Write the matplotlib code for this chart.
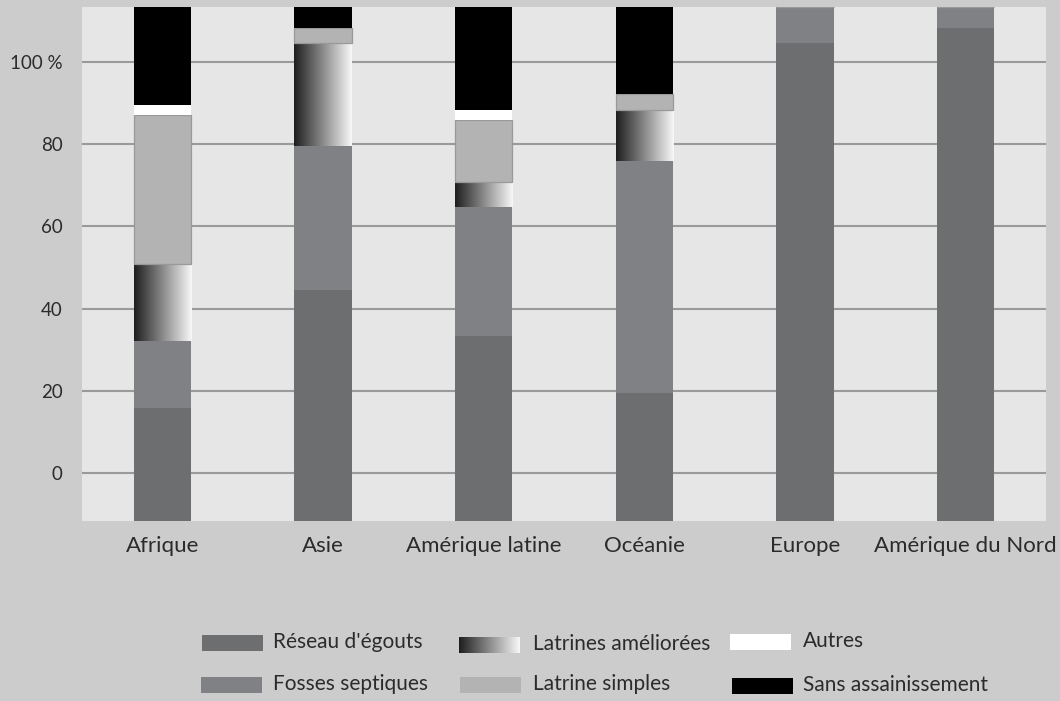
import numpy as np
import matplotlib
matplotlib.use("Agg")
import matplotlib.pyplot as plt
from matplotlib.patches import Rectangle

plt.rcParams['font.family'] = ['Lato', 'DejaVu Sans']

# Sanitation access by region (% of population)
regions = ["Afrique", "Asie", "Amérique latine", "Océanie", "Europe", "Amérique du Nord"]
reseau = [22, 45, 36, 25, 93, 96]
fosses = [13, 28, 25, 45, 7, 4]
latrines_ameliorees = [15, 20, 5, 10, 0, 0]
latrines_simples = [29, 3, 12, 3, 0, 0]
autres = [2, 0, 2, 0, 0, 0]
sans = [19, 4, 20, 17, 0, 0]

series_names = ["Réseau d'égouts", "Fosses septiques", "Latrines améliorées",
                "Latrine simples", "Autres", "Sans assainissement"]

# Reference scale printed on the left
grid_ticks = [0, 20, 40, 60, 80, 100]
grid_labels = ["0", "20", "40", "60", "80", "100 %"]
grid_range = (-11.7, 113.4)

C_RESEAU = "#6d6e70"
C_FOSSES = "#808184"
C_SIMPLES = "#b3b3b3"
C_AUTRES = "#ffffff"
C_SANS = "#000000"
FIG_BG = "#cccccc"
AX_BG = "#e6e6e6"
TEXT = "#2b2b2b"

grad_img = np.linspace(0.12, 0.97, 256).reshape(1, -1)

fig = plt.figure(figsize=(10.6, 7.01), dpi=100, facecolor=FIG_BG)
rect = [82 / 1060, 180 / 701, 964 / 1060, 514 / 701]

# Background axes holding the grid and the left scale
ax_grid = fig.add_axes(rect, facecolor=AX_BG)
ax_grid.set_ylim(*grid_range)
ax_grid.set_xlim(-0.5, len(regions) - 0.5)
ax_grid.set_yticks(grid_ticks)
ax_grid.set_yticklabels(grid_labels, fontsize=13.5, color=TEXT)
ax_grid.set_xticks([])
ax_grid.tick_params(axis='y', length=0, pad=14)
ax_grid.grid(axis='y', color='#9a9a9a', linewidth=1.5)
for s in ax_grid.spines.values():
    s.set_visible(False)

# Foreground axes with the stacked bars
ax = fig.add_axes(rect, facecolor='none')
ax.set_ylim(0, 100)
ax.set_xlim(-0.5, len(regions) - 0.5)
x = np.arange(len(regions))
w = 0.355

bottom = np.zeros(len(regions))
ax.bar(x, reseau, w, bottom=bottom, color=C_RESEAU, linewidth=0)
bottom += reseau
ax.bar(x, fosses, w, bottom=bottom, color=C_FOSSES, linewidth=0)
bottom += fosses
bars = ax.bar(x, latrines_ameliorees, w, bottom=bottom, color='none', linewidth=0)
for b in bars:
    if b.get_height() <= 0:
        continue
    x0, y0 = b.get_x(), b.get_y()
    im = ax.imshow(grad_img, cmap='gray', vmin=0, vmax=1, aspect='auto',
                   extent=(x0, x0 + b.get_width(), y0, y0 + b.get_height()),
                   interpolation='bilinear', zorder=2)
    im.set_clip_path(b)
bottom += latrines_ameliorees
ax.bar(x, latrines_simples, w, bottom=bottom, color=C_SIMPLES,
       edgecolor='#999999', linewidth=0.9, zorder=2.5)
bottom += latrines_simples
ax.bar(x, autres, w, bottom=bottom, color=C_AUTRES, linewidth=0, zorder=2.5)
bottom += autres
ax.bar(x, sans, w, bottom=bottom, color=C_SANS, linewidth=0, zorder=2.5)

ax.set_xlim(-0.5, len(regions) - 0.5)
ax.set_ylim(0, 100)
ax.set_yticks([])
ax.set_xticks(x)
ax.set_xticklabels(regions, fontsize=16, color=TEXT)
ax.tick_params(axis='x', length=0, pad=11)
for s in ax.spines.values():
    s.set_visible(False)

# Legend drawn in figure pixel space
leg = fig.add_axes([0, 0, 1, 1], facecolor='none')
leg.set_xlim(0, 1060)
leg.set_ylim(701, 0)
leg.axis('off')

legend_items = [
    (series_names[0], C_RESEAU, 202, 643, 273),
    (series_names[1], C_FOSSES, 201, 685, 273),
    (series_names[2], 'gradient', 459, 645, 533),
    (series_names[3], C_SIMPLES, 460, 685, 533),
    (series_names[4], C_AUTRES, 730, 642, 803),
    (series_names[5], C_SANS, 732, 686, 803),
]
for name, col, px, py, tx in legend_items:
    if col == 'gradient':
        leg.imshow(grad_img, cmap='gray', vmin=0, vmax=1, aspect='auto',
                   extent=(px, px + 61, py + 8, py - 8), interpolation='bilinear')
    else:
        leg.add_patch(Rectangle((px, py - 8), 61, 16, facecolor=col, linewidth=0))
    leg.text(tx, py - 1, name, fontsize=15, color=TEXT, va='center', ha='left')
leg.set_xlim(0, 1060)
leg.set_ylim(701, 0)

fig.savefig("out.png", dpi=100, facecolor=FIG_BG)
